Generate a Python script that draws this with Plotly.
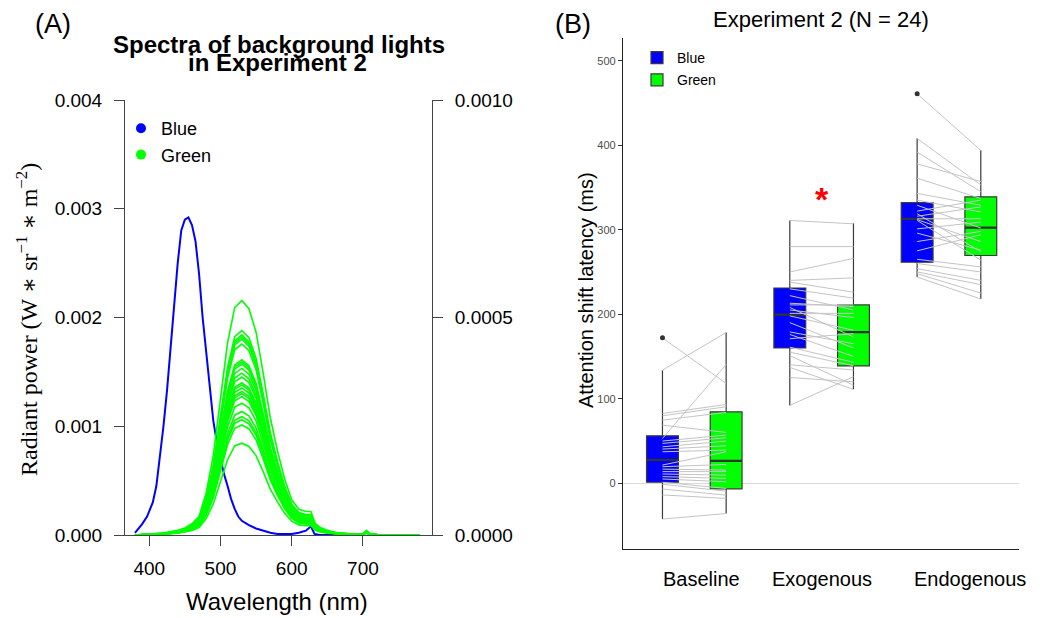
import plotly.graph_objects as go

W, H = 1041, 618


def px(x):
    return x / W


def py(y):
    return 1 - y / H


FONT = "Liberation Sans, Arial, sans-serif"
SERIF = "Liberation Serif, Times New Roman, DejaVu Serif, serif"

# ---------------- Panel A data: spectra ----------------
blue_wl = [380, 390, 397, 405, 410, 415, 420, 425, 430, 435, 440, 445, 450, 455, 460,
           465, 470, 475, 480, 485, 490, 495, 500, 505, 510, 515, 520, 525, 530, 540,
           550, 560, 570, 580, 600, 610, 620, 627, 632, 640, 700, 705, 710, 780]
blue_power = [0.00002, 0.0001, 0.00017, 0.0003, 0.00045, 0.00072, 0.001, 0.00133, 0.00172,
              0.0021, 0.0025, 0.0028, 0.0029, 0.00292, 0.00285, 0.0027, 0.0024, 0.002,
              0.0017, 0.00138, 0.00105, 0.00085, 0.0007, 0.00056, 0.00045, 0.00033, 0.00024,
              0.00017, 0.00013, 0.00009, 0.00006, 0.00004, 0.00002, 0.00001, 0.00001, 0.00002,
              0.00004, 0.00008, 0.00001, 0.0, 0.0, 0.00003, 0.0, 0.0]

green_wl = [380, 400, 420, 430, 440, 450, 460, 470, 480, 490, 500, 510, 520, 530, 540, 550,
            560, 570, 580, 590, 600, 610, 620, 627, 633, 640, 650, 660, 670, 680, 690, 700,
            705, 710, 720, 750, 780]
green_shape = [0.0, 0.003, 0.008, 0.014, 0.02, 0.03, 0.048, 0.08, 0.18, 0.34, 0.58, 0.82,
               0.97, 1.0, 0.965, 0.865, 0.69, 0.5, 0.36, 0.24, 0.15, 0.11, 0.1, 0.1, 0.05,
               0.032, 0.02, 0.012, 0.008, 0.005, 0.003, 0.004, 0.02, 0.004, 0.002, 0.001, 0.0]
# peak radiant power of each green background (right axis units)
green_peaks = [0.000539, 0.00047, 0.00046, 0.000455, 0.00045, 0.000439, 0.000403, 0.000398,
               0.000393, 0.000383, 0.000372, 0.000363, 0.00035, 0.000345, 0.000338, 0.00033,
               0.000325, 0.000318, 0.000303, 0.000284, 0.000272, 0.000265, 0.000253, 0.000211]

wl_ticks = [400, 500, 600, 700]
left_ticks = [0, 0.001, 0.002, 0.003, 0.004]
right_ticks = [0, 0.0005, 0.001]

# ---------------- Panel B data: attention shift latency ----------------
conditions = ["Baseline", "Exogenous", "Endogenous"]
blue_baseline = [172, 133.7, 52.9, 82.5, 79.7, 74.6, 68.6, 49.8, 47, 43, 40.3, 37.1,
                 21.4, 19.4, 16.6, 13.6, 10.8, 7.7, 4.9, 1, -1.4, -7, -14, -42.6]
green_baseline = [118, 178.3, 140.4, 93.1, 90.4, 83.7, 60, 56.9, 53.7, 49.8, 44.2, 39.1,
                  37.1, 22.1, 15.4, 13.6, 9.5, 5.6, 1.6, -6.3, -9.5, -14.2, -18.1, -36]
blue_exogenous = [311, 280, 250, 240, 238, 230, 222, 213, 211, 208, 205, 201,
                  198, 190, 179, 176, 171, 161, 155, 151, 140, 137, 125, 92]
green_exogenous = [307, 280, 266, 243, 226, 219, 205, 209, 211, 173, 196, 201,
                   181, 160, 165, 150, 177, 143, 139, 116, 134, 111, 120, 126]
blue_endogenous = [461, 408, 392, 378, 361, 343, 335, 329, 322, 319, 316, 313,
                   312, 311, 301, 296, 286, 275, 265, 260, 254, 250, 248, 244]
green_endogenous = [394, 353, 345, 357, 337, 329, 321, 302, 335, 274, 327, 313,
                    286, 264, 309, 276, 298, 294, 256, 250, 240, 235, 225, 218]

blue_q1 = [1, 160, 261.5]
blue_med = [27.6, 199.6, 312.8]
blue_q3 = [56, 231, 332]
blue_lo = [-42.6, 92, 244]
blue_hi = [133.7, 311, 408]
green_q1 = [-6.7, 138.8, 269.5]
green_med = [26.4, 178.7, 302.6]
green_q3 = [84.4, 211, 339]
green_lo = [-36, 111, 218]
green_hi = [178.3, 307.7, 394]
blue_outliers_cond = [1, 3]
blue_outliers_val = [172, 461]

star_condition = 2
star_value = 336
b_ticks = [0, 100, 200, 300, 400, 500]

BLUE = "#0000ff"
GREEN = "#00ff00"
DODGE = 0.25
BOXW = 0.25

fig = go.Figure()

# ---- Panel A traces ----
for pk in green_peaks:
    fig.add_trace(go.Scatter(
        x=green_wl, y=[s * pk for s in green_shape], mode="lines",
        line=dict(color=GREEN, width=1.6), showlegend=False,
        xaxis="x", yaxis="y2", hoverinfo="skip"))
fig.add_trace(go.Scatter(
    x=blue_wl, y=blue_power, mode="lines", line=dict(color=BLUE, width=2),
    showlegend=False, xaxis="x", yaxis="y", hoverinfo="skip"))
for nm, col in [("Blue", BLUE), ("Green", GREEN)]:
    fig.add_trace(go.Scatter(
        x=[None], y=[None], mode="markers", name=nm,
        marker=dict(color=col, size=10), xaxis="x", yaxis="y", legend="legend"))

# ---- Panel B traces ----
pos = [1, 2, 3]
fig.add_trace(go.Box(
    x=[p - DODGE for p in pos], q1=blue_q1, median=blue_med, q3=blue_q3,
    lowerfence=blue_lo, upperfence=blue_hi, width=BOXW, whiskerwidth=0,
    fillcolor=BLUE, line=dict(color="#3a3a3a", width=1.2), boxpoints=False,
    name="Blue", legendgroup="b", xaxis="x3", yaxis="y3", legend="legend2",
    hoverinfo="skip"))
fig.add_trace(go.Box(
    x=[p + DODGE for p in pos], q1=green_q1, median=green_med, q3=green_q3,
    lowerfence=green_lo, upperfence=green_hi, width=BOXW, whiskerwidth=0,
    fillcolor=GREEN, line=dict(color="#3a3a3a", width=1.2), boxpoints=False,
    name="Green", legendgroup="g", xaxis="x3", yaxis="y3", legend="legend2",
    hoverinfo="skip"))

# median overlays (thicker, as in ggplot)
mx, my = [], []
for i, p in enumerate(pos):
    for c, med in [(p - DODGE, blue_med[i]), (p + DODGE, green_med[i])]:
        mx += [c - BOXW / 2, c + BOXW / 2, None]
        my += [med, med, None]
fig.add_trace(go.Scatter(x=mx, y=my, mode="lines", line=dict(color="#333333", width=2.2),
                         showlegend=False, xaxis="x3", yaxis="y3", hoverinfo="skip"))

# paired subject lines
lx, ly = [], []
for p, bvals, gvals in [(1, blue_baseline, green_baseline),
                        (2, blue_exogenous, green_exogenous),
                        (3, blue_endogenous, green_endogenous)]:
    for b, g in zip(bvals, gvals):
        lx += [p - DODGE, p + DODGE, None]
        ly += [b, g, None]
fig.add_trace(go.Scatter(x=lx, y=ly, mode="lines", line=dict(color="#c4c4c4", width=1),
                         showlegend=False, xaxis="x3", yaxis="y3", hoverinfo="skip"))

fig.add_trace(go.Scatter(
    x=[c - DODGE for c in blue_outliers_cond], y=blue_outliers_val, mode="markers",
    marker=dict(color="#333333", size=5), showlegend=False, xaxis="x3", yaxis="y3",
    hoverinfo="skip"))

annotations = [
    dict(text="(A)", x=px(53), y=py(24), font=dict(size=27, family=FONT, color="black")),
    dict(text="(B)", x=px(573), y=py(24), font=dict(size=27, family=FONT, color="black")),
    dict(text="<b>Spectra of background lights</b>", x=px(279), y=py(45),
         font=dict(size=24, family=FONT, color="black")),
    dict(text="<b>in Experiment 2</b>", x=px(277), y=py(63),
         font=dict(size=24, family=FONT, color="black")),
    dict(text="Wavelength (nm)", x=px(277), y=py(601),
         font=dict(size=24, family=FONT, color="black")),
    dict(text="Radiant power (W ∗ sr<sup>−1</sup> ∗ m<sup>−2</sup>)", x=px(27), y=py(320),
         textangle=-90, font=dict(size=24, family=SERIF, color="black")),
    dict(text="Experiment 2 (N = 24)", x=px(821), y=py(20),
         font=dict(size=22, family=FONT, color="black")),
    dict(text="Attention shift latency (ms)", x=px(586), y=py(290), textangle=-90,
         font=dict(size=20, family=FONT, color="black")),
    dict(text="<b>*</b>", x=star_condition, y=star_value, xref="x3", yref="y3",
         font=dict(size=34, family=FONT, color="red")),
]
label_px = [701, 822, 970]
for lab, xp in zip(conditions, label_px):
    annotations.append(dict(text=lab, x=px(xp), y=py(579),
                            font=dict(size=20, family=FONT, color="black")))
for a in annotations:
    a.setdefault("xref", "paper")
    a.setdefault("yref", "paper")
    a.update(showarrow=False, xanchor="center", yanchor="middle")

axis_font = dict(size=19, family=FONT, color="black")
fig.update_layout(
    width=W, height=H, autosize=False,
    margin=dict(l=0, r=0, t=0, b=0, autoexpand=False),
    paper_bgcolor="white", plot_bgcolor="white",
    font=dict(family=FONT),
    xaxis=dict(domain=[px(125), px(432)], range=[366, 797], anchor="y",
               tickvals=wl_ticks, ticks="outside", ticklen=10, tickcolor="#444",
               showline=True, linecolor="#444", linewidth=1, showgrid=False,
               zeroline=False, tickfont=axis_font, ticklabelstandoff=6),
    yaxis=dict(domain=[py(535), py(100)], range=[0, 0.004], anchor="x",
               tickvals=left_ticks, tickformat=".3f", ticks="outside", ticklen=10,
               tickcolor="#444", showline=True, linecolor="#444", linewidth=1,
               showgrid=False, zeroline=False, tickfont=axis_font, ticklabelstandoff=8),
    yaxis2=dict(range=[0, 0.001], anchor="x", overlaying="y", side="right",
                tickvals=right_ticks, tickformat=".4f", ticks="outside", ticklen=10,
                tickcolor="#444", showline=True, linecolor="#444", linewidth=1,
                showgrid=False, zeroline=False, tickfont=axis_font, ticklabelstandoff=8),
    xaxis3=dict(domain=[px(623), px(1019)], range=[0.44, 3.55], anchor="y3",
                showticklabels=False, ticks="", showline=True, linecolor="#222",
                linewidth=1.2, showgrid=False, zeroline=False),
    yaxis3=dict(domain=[py(549), py(38)], range=[-78, 527], anchor="x3",
                tickvals=b_ticks, ticks="outside", ticklen=4, tickcolor="#333",
                showline=True, linecolor="#222", linewidth=1.2, showgrid=False,
                zeroline=True, zerolinecolor="#d9d9d9", zerolinewidth=1,
                tickfont=dict(size=11, family=FONT, color="#4d4d4d")),
    legend=dict(x=px(121), y=py(110), xanchor="left", yanchor="top",
                bgcolor="rgba(0,0,0,0)", font=dict(size=18, family=FONT, color="black"),
                itemclick=False),
    legend2=dict(x=px(637), y=py(42), xanchor="left", yanchor="top",
                 bgcolor="rgba(0,0,0,0)", font=dict(size=14, family=FONT, color="black"),
                 tracegroupgap=1, itemclick=False),
    annotations=annotations,
)

fig.write_html(
    "out.html",
    config={"responsive": False, "displayModeBar": False},
    post_script="document.body.style.margin='0';document.body.style.padding='0';"
                "document.body.style.overflow='hidden';",
)
